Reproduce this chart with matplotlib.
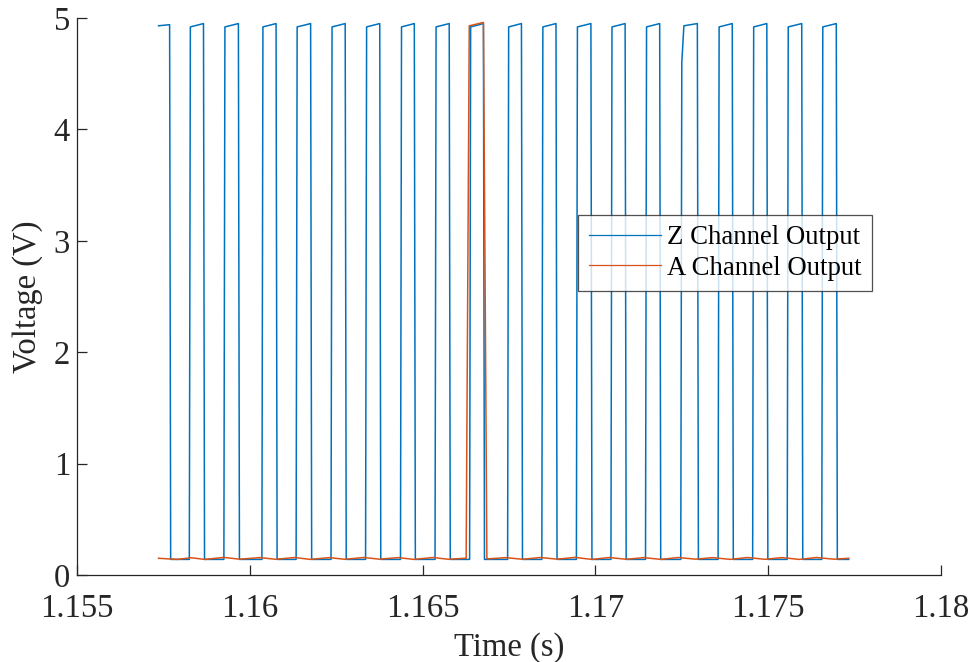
import numpy as np
import matplotlib
matplotlib.use("Agg")
import matplotlib.pyplot as plt

# ---------------- data ----------------
t_start = 1.15736
t_end = 1.17733

# Z channel (blue): rising / falling edge times (s); record starts high
z_rise = [1.15825, 1.15925, 1.16035, 1.16134, 1.16235, 1.16335, 1.16436,
          1.16536, 1.16636, 1.16746, 1.16845, 1.16945, 1.17045, 1.17145,
          1.17247, 1.17355, 1.17455, 1.17555, 1.17655]
z_fall = [1.15768, 1.15866, 1.15967, 1.16076, 1.16176, 1.16276, 1.16376,
          1.16476, 1.16577, 1.16676, 1.16786, 1.16886, 1.16987, 1.17086,
          1.17186, 1.17295, 1.17396, 1.17496, 1.17597, 1.17697]
z_low = 0.14
z_high_start = 4.92
z_high_end = 4.95
# slow-rise pulse (knee on the leading edge)
z_knee_t = 1.17256
z_knee_v_low = 4.60

# A channel (orange): wavy baseline samples + single index pulse
a_base_t = [1.15736, 1.15790, 1.15830, 1.15870, 1.15925, 1.15970, 1.16030,
            1.16075, 1.16130, 1.16175, 1.16230, 1.16275, 1.16330, 1.16375,
            1.16430, 1.16475, 1.16530, 1.16575, 1.16620,
            1.16690, 1.16740, 1.16790, 1.16840, 1.16890, 1.16940, 1.16990,
            1.17040, 1.17090, 1.17140, 1.17190, 1.17240, 1.17290, 1.17340,
            1.17390, 1.17440, 1.17490, 1.17540, 1.17590, 1.17640, 1.17690,
            1.17733]
a_base_v = [0.150, 0.140, 0.155, 0.140, 0.158, 0.142, 0.156, 0.141, 0.157,
            0.140, 0.156, 0.141, 0.157, 0.142, 0.156, 0.140, 0.157, 0.141,
            0.150,
            0.145, 0.156, 0.141, 0.157, 0.142, 0.158, 0.140, 0.157, 0.141,
            0.156, 0.140, 0.157, 0.142, 0.156, 0.140, 0.157, 0.141, 0.156,
            0.140, 0.157, 0.142, 0.150]
a_pulse_t = [1.16626, 1.16635, 1.16676, 1.16686]
a_pulse_v = [0.15, 4.93, 4.96, 0.15]

xticks = [1.155, 1.16, 1.165, 1.17, 1.175, 1.18]
xtick_labels = ["1.155", "1.16", "1.165", "1.17", "1.175", "1.18"]
yticks = [0, 1, 2, 3, 4, 5]

# ---------------- build traces ----------------
edge = 0.00003
zt = [t_start]
zv = [z_high_start + 0.01]
falls = list(z_fall)
rises = list(z_rise)
zt += [falls[0]]
zv += [z_high_end - 0.01]
zt += [falls[0] + edge]
zv += [z_low]
for r, f in zip(rises, falls[1:]):
    zt += [r, r + edge]
    zv += [z_low, z_high_start]
    if abs(r - 1.17247) < 1e-6:
        zv[-1] = z_knee_v_low
        zt += [z_knee_t]
        zv += [z_high_start + 0.01]
    zt += [f, f + edge]
    zv += [z_high_end, z_low]
zt += [t_end]
zv += [z_low]

at = []
av = []
inserted = False
for t, v in zip(a_base_t, a_base_v):
    if not inserted and t > a_pulse_t[0]:
        at += a_pulse_t
        av += a_pulse_v
        inserted = True
    at.append(t)
    av.append(v)

# ---------------- plot ----------------
plt.rcParams["font.family"] = ["Liberation Serif", "DejaVu Serif"]
plt.rcParams["mathtext.fontset"] = "stix"

fig = plt.figure(figsize=(9.69, 6.62), dpi=100)
ax = fig.add_axes([77 / 969, 1 - 575 / 662, (941 - 77) / 969, (575 - 18) / 662])

ax.plot(zt, zv, color="#0072BD", lw=1.1, label="Z Channel Output")
ax.plot(at, av, color="#D95319", lw=1.1, label="A Channel Output")

ax.set_xlim(1.155, 1.18)
ax.set_ylim(0, 5)
ax.set_xticks(xticks)
ax.set_xticklabels(xtick_labels)
ax.set_yticks(yticks)

axcol = "#262626"
for s in ["top", "right"]:
    ax.spines[s].set_visible(False)
for s in ["left", "bottom"]:
    ax.spines[s].set_color(axcol)
    ax.spines[s].set_linewidth(0.9)
ax.tick_params(direction="in", length=7, width=0.9, colors=axcol,
               labelsize=23.5, labelcolor="#262626")
ax.tick_params(axis="y", pad=5)
ax.tick_params(axis="x", pad=13)

ax.set_xlabel("Time (s)", fontsize=23.5, color="#262626", labelpad=6)
ax.set_ylabel("Voltage (V)", fontsize=23.5, color="#262626", labelpad=8)

leg = ax.legend(loc="upper left", bbox_to_anchor=(0.58, 0.647),
                fontsize=19.3, frameon=True, fancybox=False, handlelength=2.7,
                handletextpad=0.2, borderpad=0.4, labelspacing=0.2,
                borderaxespad=0)
leg.get_frame().set_edgecolor("#262626")
leg.get_frame().set_linewidth(0.9)
for line in leg.get_lines():
    line.set_linewidth(0.9)

fig.savefig("out.png", dpi=100, facecolor="white")
